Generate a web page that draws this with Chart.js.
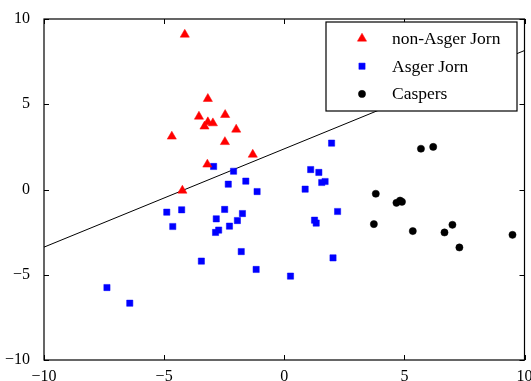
<!DOCTYPE html>
<html>
<head>
<meta charset="utf-8">
<script src="https://cdn.jsdelivr.net/npm/chart.js@4.4.1/dist/chart.umd.min.js"></script>
<style>
  html, body { margin: 0; padding: 0; background: #fff; }
</style>
</head>
<body>
<canvas id="chart" width="531" height="381"></canvas>
<script>
// values
const nonJornX = [-4.14, -3.18, -3.55, -2.46, -3.18, -2.97, -3.32, -2.0, -4.68, -2.47, -1.31, -3.20, -4.24];
const nonJornY = [9.09, 5.32, 4.28, 4.38, 3.95, 3.89, 3.70, 3.52, 3.11, 2.79, 2.05, 1.47, -0.06];

const jornX = [1.97, -2.94, -2.11, 1.10, 1.44, -2.33, -1.60, -1.13, 0.87, 1.56, 1.70, -4.89, -4.27, -2.48, -1.74, -2.83,
  -1.95, -2.28, -4.64, -2.73, -2.86, 1.26, 1.33, 2.22, -1.79, -3.45, 2.03, -1.17, 0.26, -7.38, -6.43];
const jornY = [2.72, 1.35, 1.07, 1.17, 1.0, 0.31, 0.49, -0.12, 0.02, 0.41, 0.47, -1.33, -1.19, -1.17, -1.41, -1.72,
  -1.82, -2.15, -2.17, -2.38, -2.52, -1.80, -1.97, -1.29, -3.64, -4.20, -4.01, -4.69, -5.08, -5.75, -6.67];

const caspersX = [5.69, 6.20, 3.81, 4.67, 4.82, 4.90, 3.73, 5.35, 6.67, 7.0, 7.29, 9.50];
const caspersY = [2.39, 2.50, -0.25, -0.78, -0.65, -0.72, -2.03, -2.44, -2.52, -2.07, -3.40, -2.66];

// separating line
const boundaryX = [-10, 10];
const boundaryY = [-3.38, 8.15];

const tickValues = [-10, -5, 0, 5, 10];

const pts = (xs, ys) => xs.map((x, i) => ({ x, y: ys[i] }));
const fmt = v => v < 0 ? '\u2212' + Math.abs(v) : String(v);
const FONT = '"Liberation Serif", "DejaVu Serif", serif';

// box round the plot + inward ticks on all four sides
const frame = {
  id: 'frame',
  afterDatasetsDraw(chart) {
    const { ctx, chartArea: a, scales: { x, y } } = chart;
    ctx.save();
    ctx.strokeStyle = '#000';
    ctx.lineWidth = 1.2;
    ctx.strokeRect(a.left, a.top, a.right - a.left, a.bottom - a.top);
    ctx.lineWidth = 1;
    ctx.beginPath();
    tickValues.forEach(v => {
      const px = Math.round(x.getPixelForValue(v)) + 0.5;
      ctx.moveTo(px, a.bottom); ctx.lineTo(px, a.bottom - 5);
      ctx.moveTo(px, a.top); ctx.lineTo(px, a.top + 5);
      const py = Math.round(y.getPixelForValue(v)) + 0.5;
      ctx.moveTo(a.left, py); ctx.lineTo(a.left + 5, py);
      ctx.moveTo(a.right, py); ctx.lineTo(a.right - 5, py);
    });
    ctx.stroke();
    ctx.restore();
  }
};

// legend box in the upper right corner
const boxLegend = {
  id: 'boxLegend',
  afterDraw(chart) {
    const { ctx } = chart;
    const items = chart.data.datasets.filter(d => d.inLegend);
    const left = 326, top = 22, w = 191, h = 89;
    ctx.save();
    ctx.fillStyle = '#fff';
    ctx.fillRect(left, top, w, h);
    ctx.strokeStyle = '#000';
    ctx.lineWidth = 1.2;
    ctx.strokeRect(left, top, w, h);
    ctx.font = '17.5px ' + FONT;
    ctx.textBaseline = 'middle';
    items.forEach((d, i) => {
      const cy = 38.5 + i * 27.7;
      ctx.fillStyle = d.backgroundColor;
      ctx.strokeStyle = d.borderColor;
      ctx.lineWidth = 0.5;
      Chart.helpers.drawPoint(ctx, { pointStyle: d.pointStyle, radius: d.pointRadius, borderWidth: 0.5 }, 362, cy);
      ctx.fillStyle = '#000';
      ctx.fillText(d.label, 392, cy + 1);
    });
    ctx.restore();
  }
};

new Chart(document.getElementById('chart'), {
  type: 'scatter',
  data: {
    datasets: [
      {
        type: 'line', label: 'boundary', data: pts(boundaryX, boundaryY),
        borderColor: '#000', borderWidth: 1, pointRadius: 0, fill: false, order: 4
      },
      {
        label: 'non-Asger Jorn', inLegend: true, data: pts(nonJornX, nonJornY),
        pointStyle: 'triangle', pointRadius: 5.3, backgroundColor: '#ff0000', borderColor: '#ff0000', borderWidth: 0.5
      },
      {
        label: 'Asger Jorn', inLegend: true, data: pts(jornX, jornY),
        pointStyle: 'rect', pointRadius: 4.4, backgroundColor: '#0000ff', borderColor: '#0000ff', borderWidth: 0.5
      },
      {
        label: 'Caspers', inLegend: true, data: pts(caspersX, caspersY),
        pointStyle: 'circle', pointRadius: 3.6, backgroundColor: '#000', borderColor: '#000', borderWidth: 0.5
      }
    ]
  },
  options: {
    responsive: false,
    animation: false,
    devicePixelRatio: 1,
    layout: { padding: { left: 0, top: 19, right: 6.5, bottom: 0 } },
    plugins: { legend: { display: false }, tooltip: { enabled: false } },
    scales: {
      x: {
        type: 'linear', min: -10, max: 10,
        grid: { display: false }, border: { display: false },
        ticks: { stepSize: 5, callback: fmt, color: '#000', padding: -1, maxRotation: 0, font: { family: FONT, size: 16 } },
        afterFit(s) { s.height = 21; s.paddingLeft = 0; s.paddingRight = 0; }
      },
      y: {
        type: 'linear', min: -10, max: 10,
        grid: { display: false }, border: { display: false },
        ticks: { stepSize: 5, callback: fmt, color: '#000', padding: 6, font: { family: FONT, size: 16 } },
        afterFit(s) { s.width = 44; s.paddingTop = 0; s.paddingBottom = 0; }
      }
    }
  },
  plugins: [frame, boxLegend]
});
</script>
</body>
</html>
